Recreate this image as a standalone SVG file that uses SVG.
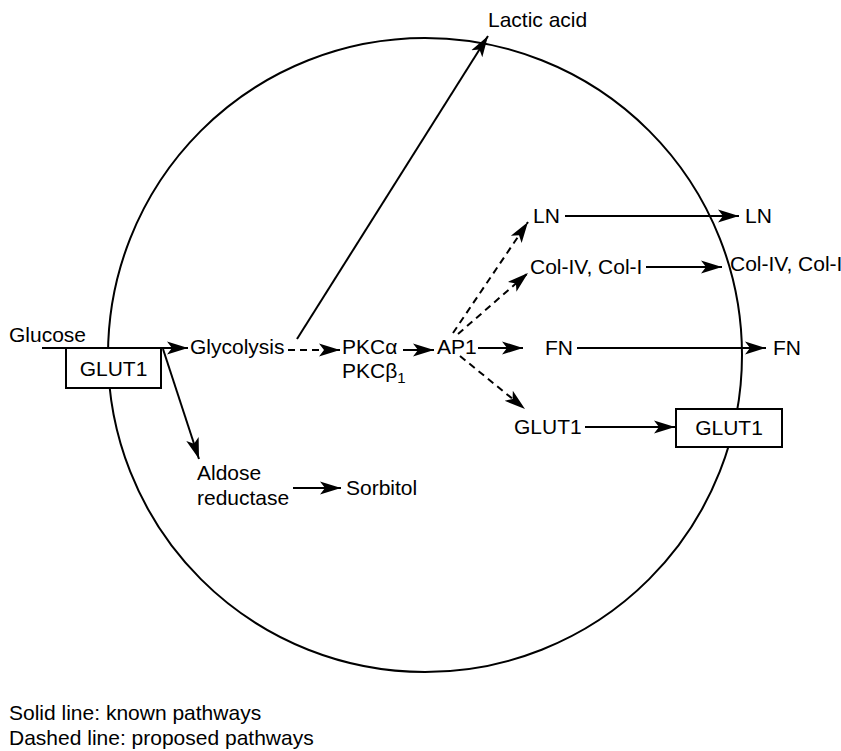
<svg xmlns="http://www.w3.org/2000/svg" width="841" height="751" viewBox="0 0 841 751">
<style>
text{font-family:"Liberation Sans",Arial,Helvetica,sans-serif;font-size:21px;fill:#000}
.l{stroke:#000;stroke-width:2;fill:none}
.d{stroke:#000;stroke-width:2;fill:none;stroke-dasharray:7 5}
.box{fill:#fff;stroke:#000;stroke-width:2}
</style>
<defs>
<marker id="a" markerUnits="userSpaceOnUse" markerWidth="22" markerHeight="16" viewBox="0 0 22 16" refX="21" refY="8" orient="auto">
<path d="M0,1.5 L21,8 L0,14.5 L5,8 z" fill="#000"/>
</marker>
</defs>
<circle cx="425" cy="355" r="317" class="l"/>
<g id="connectors">
<line x1="42" y1="348" x2="188" y2="348" class="l" marker-end="url(#a)"/>
<line x1="288" y1="350" x2="340" y2="350" class="d" marker-end="url(#a)"/>
<line x1="297" y1="339" x2="488" y2="36" class="l" marker-end="url(#a)"/>
<line x1="163" y1="349" x2="199" y2="459" class="l" marker-end="url(#a)"/>
<line x1="293" y1="488" x2="341" y2="488" class="l" marker-end="url(#a)"/>
<line x1="403" y1="350" x2="434" y2="350" class="l" marker-end="url(#a)"/>
<line x1="478" y1="348" x2="523" y2="348" class="l" marker-end="url(#a)"/>
<line x1="577" y1="348" x2="766" y2="348" class="l" marker-end="url(#a)"/>
<line x1="453" y1="333" x2="528" y2="222" class="d" marker-end="url(#a)"/>
<line x1="458" y1="334" x2="528" y2="273" class="d" marker-end="url(#a)"/>
<line x1="460" y1="356" x2="525" y2="409" class="d" marker-end="url(#a)"/>
<line x1="565" y1="216" x2="739" y2="216" class="l" marker-end="url(#a)"/>
<line x1="646" y1="267" x2="722" y2="267" class="l" marker-end="url(#a)"/>
<line x1="585" y1="427" x2="675" y2="427" class="l" marker-end="url(#a)"/>
</g>
<g id="glucose"><text x="9" y="342">Glucose</text></g>
<g id="glut1-membrane-left"><rect x="66" y="348" width="95" height="40" class="box"/><text x="113.5" y="376" text-anchor="middle">GLUT1</text></g>
<g id="glycolysis"><text x="190" y="354">Glycolysis</text></g>
<g id="lactic-acid"><text x="488" y="27">Lactic acid</text></g>
<g id="pkc"><text x="342" y="354">PKCα</text><text x="342" y="378">PKCβ<tspan font-size="15" dy="5">1</tspan></text></g>
<g id="ap1"><text x="437" y="354">AP1</text></g>
<g id="aldose"><text x="197" y="480">Aldose</text><text x="197" y="505">reductase</text></g>
<g id="sorbitol"><text x="346" y="495">Sorbitol</text></g>
<g id="ln-in"><text x="533" y="223">LN</text></g>
<g id="ln-out"><text x="745" y="223">LN</text></g>
<g id="col-in"><text x="530" y="274">Col-IV, Col-I</text></g>
<g id="col-out"><text x="730" y="271">Col-IV, Col-I</text></g>
<g id="fn-in"><text x="545" y="355">FN</text></g>
<g id="fn-out"><text x="773" y="355">FN</text></g>
<g id="glut1-in"><text x="514" y="434">GLUT1</text></g>
<g id="glut1-membrane-right"><rect x="676" y="409" width="106" height="38" class="box"/><text x="729" y="435" text-anchor="middle">GLUT1</text></g>
<g id="legend"><text x="9" y="720">Solid line: known pathways</text><text x="9" y="745">Dashed line: proposed pathways</text></g>
</svg>
